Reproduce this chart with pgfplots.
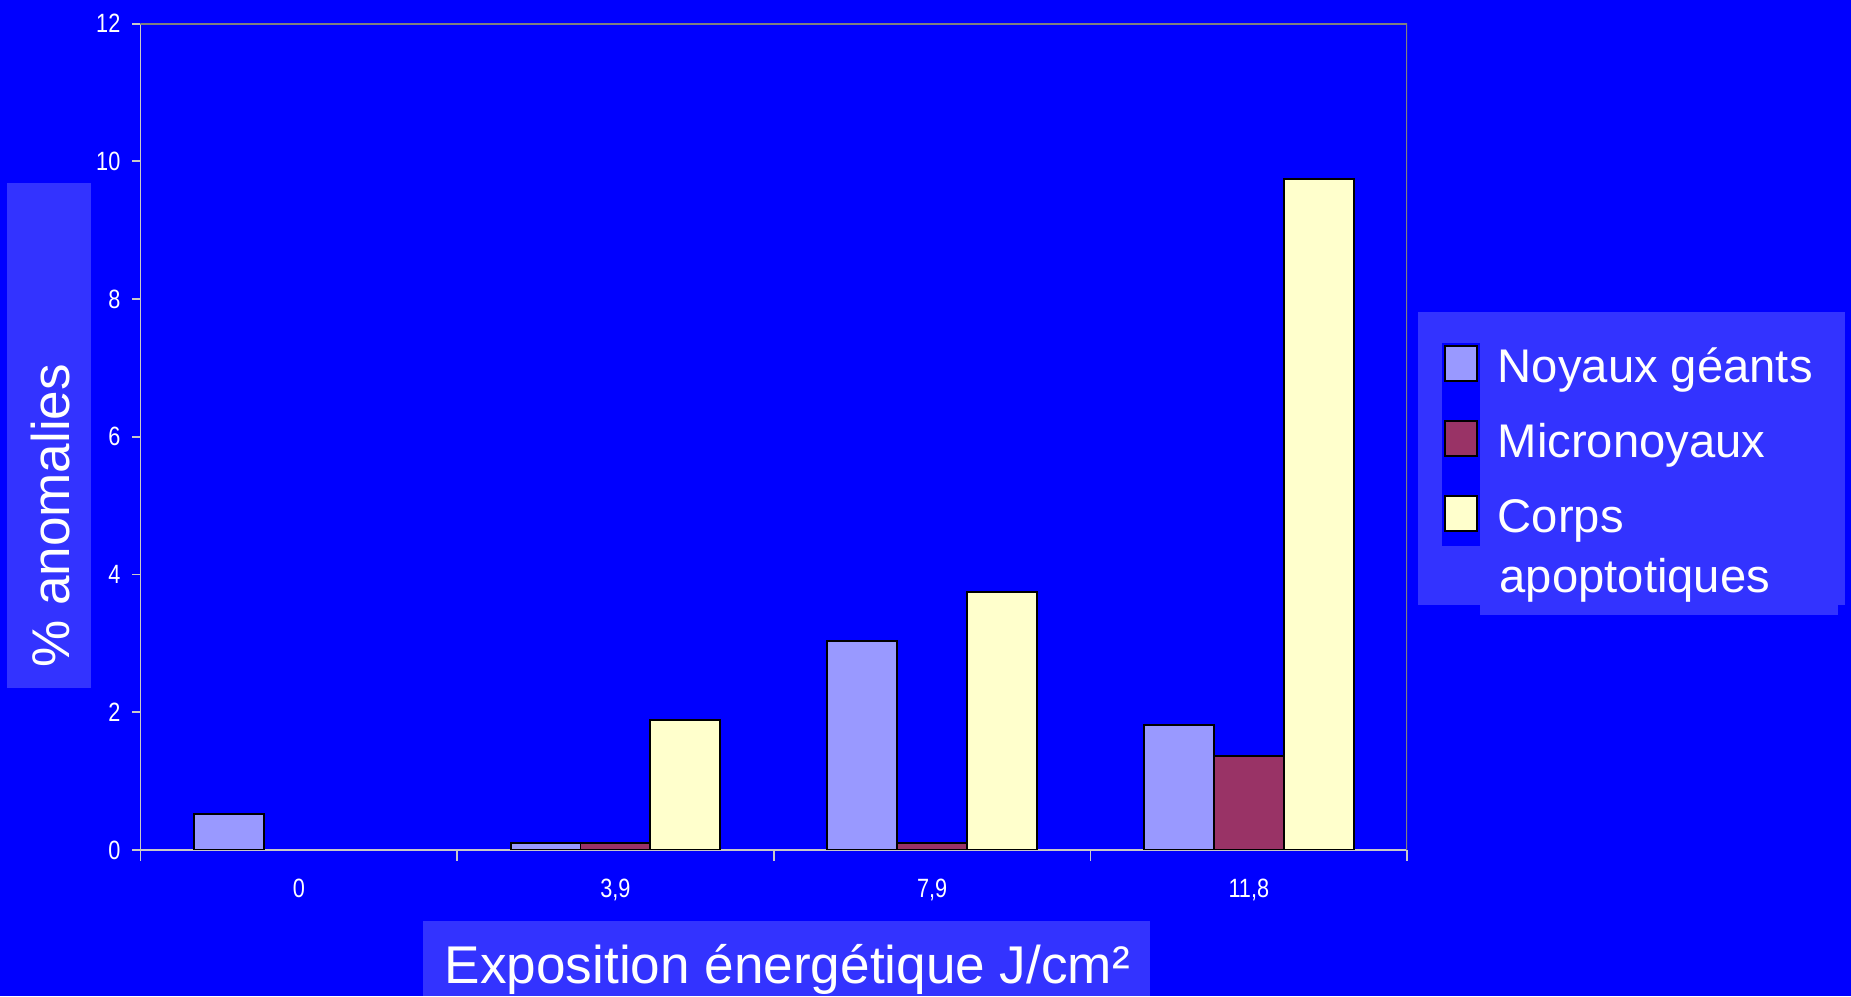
\documentclass[border=0pt]{standalone}
\usepackage{fontspec}
\setmainfont{Liberation Sans}
\newfontfamily\narrowfont[FakeStretch=0.82]{Liberation Sans}
\usepackage{pgfplots}
\pgfplotsset{compat=1.18}
\definecolor{bgblue}{HTML}{0000FF}
\definecolor{boxblue}{HTML}{3333FF}
\definecolor{noy}{HTML}{9999FF}
\definecolor{mic}{HTML}{993366}
\definecolor{cor}{HTML}{FFFFCC}
\definecolor{axlight}{HTML}{C8C8C8}
\definecolor{axdark}{HTML}{808080}
\begin{document}
\begin{tikzpicture}[x=1pt,y=1pt]
\useasboundingbox (-59.5,-62) rectangle (724.5,360);
\fill[bgblue] (-59.5,-62) rectangle (724.5,360);
\fill[boxblue] (-56.5,68.5) rectangle (-21,282.5);
\fill[boxblue] (119.5,-62) rectangle (427.5,-30);
\fill[boxblue] (541,103.75) rectangle (722,228);
\fill[boxblue] (567.5,99.5) rectangle (719,104);
\fill[bgblue] (551.25,128.75) rectangle (567.35,214.7);
\node[rotate=90, text=white, font=\fontsize{22.5}{27}\selectfont] at (-38,141.5) {\% anomalies};
\node[anchor=base, text=white, font=\fontsize{22.5}{27}\selectfont] at (274,-56.5) {Exposition énergétique J/cm²};
\node[anchor=base west, text=white, font=\fontsize{20}{24}\selectfont, inner sep=0pt] at (575.5,109) {apoptotiques};
\begin{axis}[at={(0,0)}, anchor=south west, scale only axis,
  width=536.5pt, height=350pt,
  xmin=-0.5, xmax=3.5, ymin=0, ymax=12,
  ybar=0pt, bar width=29.6pt,
  axis x line*=bottom, axis y line*=left,
  axis line style={axlight, line width=0.8pt, -},
  xtick={0,1,2,3}, xticklabels={0,{3,9},{7,9},{11,8}},
  minor xtick={-0.5,0.5,1.5,2.5,3.5},
  ytick={0,2,...,12},
  tick align=outside,
  major tick length=3.5pt, minor tick length=4.5pt,
  tick style={axlight, line width=0.8pt},
  every major x tick/.append style={draw=none},
  tick label style={text=white, font=\narrowfont\fontsize{11.2}{13}\selectfont},
  /pgf/number format/assume math mode=true,
  xticklabel style={yshift=-5.3pt},
  yticklabel style={xshift=-1.5pt},
  legend image code/.code={\draw[#1, draw=black, line width=0.8pt] (0pt,-4.6pt) rectangle (13.3pt,10.2pt); \path[draw=none, fill=none] (0pt,-4pt) rectangle (22.3pt,4pt);},
  legend style={at={(axis description cs:1.0289,0.6113)}, anchor=north west,
    draw=none, fill=none, inner sep=0pt, row sep=12.15pt, column sep=0pt,
    font=\fontsize{20}{24}\selectfont, text=white,
    nodes={inner sep=0pt, text height=14pt, text depth=4pt}},
  legend cell align=left,
]
\addplot[fill=noy, draw=black, line width=0.8pt] coordinates {(0,0.52) (1,0.1) (2,3.04) (3,1.82)};
\addplot[fill=mic, draw=black, line width=0.8pt] coordinates {(1,0.1) (2,0.1) (3,1.36)};
\addplot[fill=cor, draw=black, line width=0.8pt] coordinates {(1,1.89) (2,3.75) (3,9.74)};
\legend{Noyaux géants, Micronoyaux, Corps}
\draw[axdark, line width=0.8pt] (rel axis cs:0,1) -- (rel axis cs:1,1) -- (rel axis cs:1,0);
\end{axis}
\end{tikzpicture}
\end{document}
